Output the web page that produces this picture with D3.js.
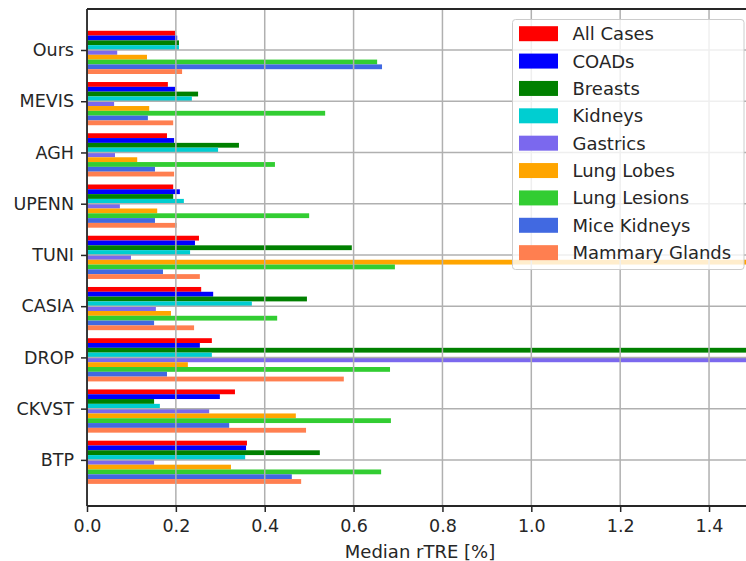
<!DOCTYPE html>
<html>
<head>
<meta charset="utf-8">
<script src="https://cdn.jsdelivr.net/npm/d3@7/dist/d3.min.js"></script>
<style>
  body { margin: 0; background: #fff; }
  svg text { font-family: "DejaVu Sans", sans-serif; fill: #000; }
</style>
</head>
<body>
<div id="chart"></div>
<script>
// methods, top to bottom
var methods = ["Ours", "MEVIS", "AGH", "UPENN", "TUNI", "CASIA", "DROP", "CKVST", "BTP"];

var series = ["All Cases", "COADs", "Breasts", "Kidneys", "Gastrics",
              "Lung Lobes", "Lung Lesions", "Mice Kidneys", "Mammary Glands"];

var colors = ["#ff0000", "#0000ff", "#008000", "#00ced1", "#7b68ee",
              "#ffa500", "#32cd32", "#4169e1", "#ff7f50"];

// median rTRE per method, one array per series (same order as methods)
var allCases     = [0.198, 0.182, 0.180, 0.194, 0.252, 0.257, 0.281, 0.333, 0.360];
var coads        = [0.203, 0.198, 0.196, 0.209, 0.243, 0.284, 0.254, 0.299, 0.358];
var breasts      = [0.207, 0.250, 0.342, 0.194, 0.596, 0.495, 1.60,  0.151, 0.524];
var kidneys      = [0.207, 0.236, 0.295, 0.218, 0.232, 0.371, 0.281, 0.164, 0.356];
var gastrics     = [0.068, 0.061, 0.063, 0.074, 0.099, 0.155, 1.60,  0.275, 0.151];
var lungLobes    = [0.135, 0.140, 0.113, 0.158, 1.60,  0.189, 0.227, 0.470, 0.324];
var lungLesions  = [0.653, 0.536, 0.423, 0.500, 0.693, 0.428, 0.682, 0.684, 0.662];
var miceKidneys  = [0.664, 0.137, 0.153, 0.153, 0.171, 0.151, 0.180, 0.320, 0.461];
var mammary      = [0.214, 0.194, 0.196, 0.202, 0.254, 0.241, 0.578, 0.493, 0.482];

var values = [allCases, coads, breasts, kidneys, gastrics, lungLobes, lungLesions, miceKidneys, mammary];

var xTicks = [0, 0.2, 0.4, 0.6, 0.8, 1.0, 1.2, 1.4];

(function chart(){
var width = 746, height = 561;
var pLeft = 87, pRight = 746, pTop = 9, pBottom = 506;
var barH = 0.0937; // in y units

var svg = d3.select("#chart").append("svg")
    .attr("width", width)
    .attr("height", height);

var x = d3.scaleLinear().domain([0, 1.4832]).range([pLeft, pRight]);
var y = d3.scaleLinear().domain([-0.8, 8.9]).range([pTop, pBottom]);

svg.append("defs").append("clipPath").attr("id", "plotclip")
  .append("rect")
    .attr("x", pLeft).attr("y", pTop)
    .attr("width", pRight - pLeft).attr("height", pBottom - pTop);

var plot = svg.append("g").attr("clip-path", "url(#plotclip)");

// bars
var rows = [];
series.forEach(function(s, i){
  methods.forEach(function(m, j){
    rows.push({series: i, method: j, value: values[i][j]});
  });
});

plot.selectAll("rect.bar")
    .data(rows)
  .enter().append("rect")
    .attr("class", "bar")
    .attr("x", x(0))
    .attr("y", function(d){ return y(d.method + (d.series - 4) * barH); })
    .attr("width", function(d){ return x(d.value) - x(0); })
    .attr("height", function(d){ return y(barH) - y(0); })
    .style("fill", function(d){ return colors[d.series]; });

// grid (drawn above the bars)
plot.selectAll("line.vgrid")
    .data(xTicks)
  .enter().append("line")
    .attr("x1", function(d){ return x(d); })
    .attr("x2", function(d){ return x(d); })
    .attr("y1", pTop).attr("y2", pBottom)
    .style("stroke", "#b0b0b0")
    .style("stroke-width", 1.5);

plot.selectAll("line.hgrid")
    .data(methods)
  .enter().append("line")
    .attr("x1", pLeft).attr("x2", pRight)
    .attr("y1", function(d, i){ return y(i); })
    .attr("y2", function(d, i){ return y(i); })
    .style("stroke", "#b0b0b0")
    .style("stroke-width", 1.5);

// axes
var xAxis = d3.axisBottom(x)
    .tickValues(xTicks)
    .tickFormat(d3.format(".1f"))
    .tickSize(6)
    .tickPadding(8);

var gx = svg.append("g")
    .attr("transform", "translate(0," + pBottom + ")")
    .call(xAxis);

var yAxis = d3.axisLeft(y)
    .tickValues(d3.range(methods.length))
    .tickFormat(function(d){ return methods[d]; })
    .tickSize(6)
    .tickPadding(7);

var gy = svg.append("g")
    .attr("transform", "translate(" + pLeft + ",0)")
    .call(yAxis);

[gx, gy].forEach(function(g){
  g.select(".domain").remove();
  g.selectAll(".tick line").style("stroke", "#262626").style("stroke-width", 1.5);
  g.selectAll(".tick text")
    .style("font-family", "DejaVu Sans")
    .style("font-size", "17.5px")
    .style("fill", "#262626");
});

// spines
svg.append("line").attr("x1", pLeft).attr("x2", pLeft).attr("y1", pTop).attr("y2", pBottom)
  .style("stroke", "#262626").style("stroke-width", 1.8);
svg.append("line").attr("x1", pLeft).attr("x2", width).attr("y1", pBottom).attr("y2", pBottom)
  .style("stroke", "#262626").style("stroke-width", 1.8);
svg.append("line").attr("x1", pLeft).attr("x2", width).attr("y1", pTop).attr("y2", pTop)
  .style("stroke", "#262626").style("stroke-width", 1.8);

// x label
svg.append("text")
    .attr("x", 420)
    .attr("y", 558)
    .attr("text-anchor", "middle")
    .style("font-size", "18px")
    .style("fill", "#262626")
    .text("Median rTRE [%]");

// legend
var legend = svg.append("g");
legend.append("rect")
    .attr("x", 512.5).attr("y", 19.5)
    .attr("width", 231.5).attr("height", 250)
    .attr("rx", 3).attr("ry", 3)
    .style("fill", "#fff")
    .style("fill-opacity", 0.8)
    .style("stroke", "#cccccc")
    .style("stroke-width", 1);

var items = legend.selectAll("g.item")
    .data(series)
  .enter().append("g")
    .attr("transform", function(d, i){ return "translate(519," + (33.7 + i * 27.37) + ")"; });

items.append("rect")
    .attr("x", 0).attr("y", -7.5)
    .attr("width", 39).attr("height", 15)
    .style("fill", function(d, i){ return colors[i]; });

items.append("text")
    .attr("x", 53.5)
    .attr("dy", "0.36em")
    .style("font-size", "18px")
    .style("fill", "#262626")
    .text(function(d){ return d; });
}());
</script>
</body>
</html>
